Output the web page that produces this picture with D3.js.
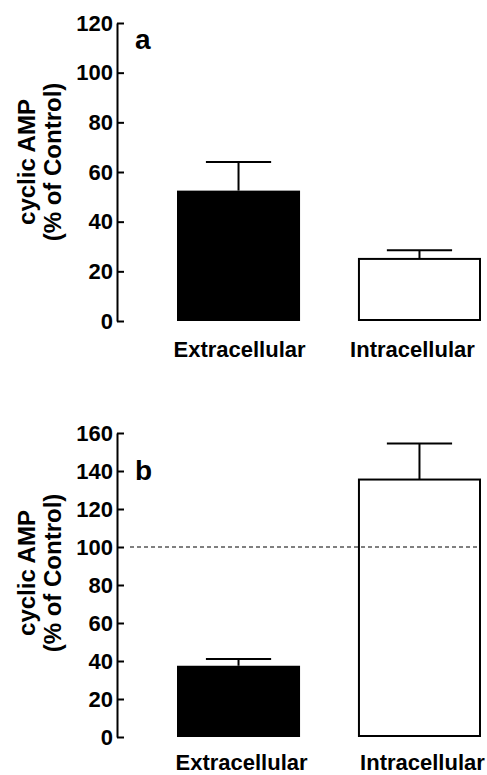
<!DOCTYPE html>
<html>
<head>
<meta charset="utf-8">
<script src="https://cdn.jsdelivr.net/npm/d3@7"></script>
<style>
    body { margin: 0; background: #fff; }
    svg text { font-family: "Liberation Sans", Arial, sans-serif; font-weight: bold; fill: #000; }
</style>
</head>
<body>
<div id="chart"></div>
<script>
// Data
const categories = ['Extracellular', 'Intracellular'];
const valuesA = [52.5, 25];
const errorsA = [11.5, 3.5];
const valuesB = [37.5, 135.5];
const errorsB = [3.5, 19];
const ticksA = [0, 20, 40, 60, 80, 100, 120];
const ticksB = [0, 20, 40, 60, 80, 100, 120, 140, 160];
const controlLevel = 100;

// Dimensions
const dimensions = { width: 487, height: 775 };

const svg = d3.select('#chart')
    .append('svg')
    .attr('width', dimensions.width)
    .attr('height', dimensions.height);

// Scales
const xScale = d3.scaleBand()
    .domain(categories)
    .range([177, 481])
    .paddingInner(0.32)
    .paddingOuter(0);

function panel(opts) {
    const yScale = d3.scaleLinear()
        .domain([0, d3.max(opts.ticks)])
        .range([opts.bottom, opts.top]);

    const g = svg.append('g');

    // Axis
    const yAxis = d3.axisLeft(yScale)
        .tickValues(opts.ticks)
        .tickSizeInner(-7)
        .tickSizeOuter(0)
        .tickPadding(4);

    const axisGroup = g.append('g')
        .attr('transform', 'translate(117,0)')
        .call(yAxis);

    axisGroup.select('.domain').attr('stroke', '#000').attr('stroke-width', 2);
    axisGroup.selectAll('.tick line').attr('stroke', '#000').attr('stroke-width', 2);
    axisGroup.selectAll('.tick text')
        .style('font-size', '22px')
        .attr('fill', '#000');

    const data = categories.map((c, i) => ({ cat: c, value: opts.values[i], err: opts.errors[i], i }));
    const capW = xScale.bandwidth() * 0.53;

    // Error bars
    const errs = g.selectAll('g.err')
        .data(data)
        .join('g')
        .attr('class', 'err');

    errs.append('line')
        .attr('x1', d => xScale(d.cat) + xScale.bandwidth() / 2)
        .attr('x2', d => xScale(d.cat) + xScale.bandwidth() / 2)
        .attr('y1', d => yScale(d.value))
        .attr('y2', d => yScale(d.value + d.err))
        .attr('stroke', '#000')
        .attr('stroke-width', 2);

    errs.append('line')
        .attr('x1', d => xScale(d.cat) + xScale.bandwidth() / 2 - capW / 2)
        .attr('x2', d => xScale(d.cat) + xScale.bandwidth() / 2 + capW / 2)
        .attr('y1', d => yScale(d.value + d.err))
        .attr('y2', d => yScale(d.value + d.err))
        .attr('stroke', '#000')
        .attr('stroke-width', 2);

    // Bars
    g.selectAll('rect')
        .data(data)
        .join('rect')
        .attr('x', d => xScale(d.cat) + (d.i === 1 ? 1 : 0))
        .attr('width', d => xScale.bandwidth() - (d.i === 1 ? 2 : 0))
        .attr('y', d => yScale(d.value))
        .attr('height', d => yScale(0) - yScale(d.value) - (d.i === 1 ? 1 : 0))
        .attr('fill', d => d.i === 0 ? '#000' : '#fff')
        .attr('stroke', '#000')
        .attr('stroke-width', d => d.i === 0 ? 0 : 2);

    // Dashed control line (drawn over the open bar)
    if (opts.control) {
        g.append('line')
            .attr('x1', 130)
            .attr('x2', 477)
            .attr('y1', yScale(controlLevel))
            .attr('y2', yScale(controlLevel))
            .attr('stroke', '#000')
            .attr('stroke-width', 1)
            .attr('stroke-dasharray', '4,3');
    }

    // Category labels
    g.selectAll('text.cat')
        .data(data)
        .join('text')
        .attr('class', 'cat')
        .attr('x', d => xScale(d.cat) + xScale.bandwidth() / 2 + opts.labelShift[d.i])
        .attr('y', opts.labelY)
        .attr('text-anchor', 'middle')
        .style('font-size', '22px')
        .text(d => d.cat);

    // Panel letter
    g.append('text')
        .attr('x', 135)
        .attr('y', opts.letterY)
        .style('font-size', '28px')
        .text(opts.letter);

    // Y title
    const mid = (opts.top + opts.bottom) / 2 + opts.titleShift;
    g.append('text')
        .attr('transform', `translate(35,${mid}) rotate(-90)`)
        .attr('text-anchor', 'middle')
        .style('font-size', '24px')
        .text('cyclic AMP');
    g.append('text')
        .attr('transform', `translate(61,${mid}) rotate(-90)`)
        .attr('text-anchor', 'middle')
        .style('font-size', '24px')
        .text('(% of Control)');
}

panel({
    ticks: ticksA, values: valuesA, errors: errorsA,
    top: 23, bottom: 321, control: false,
    labelY: 357, labelShift: [1, -7], letter: 'a', letterY: 49, titleShift: -10
});

panel({
    ticks: ticksB, values: valuesB, errors: errorsB,
    top: 433, bottom: 737, control: true,
    labelY: 770, labelShift: [3, 3], letter: 'b', letterY: 480, titleShift: -12
});
</script>
</body>
</html>
